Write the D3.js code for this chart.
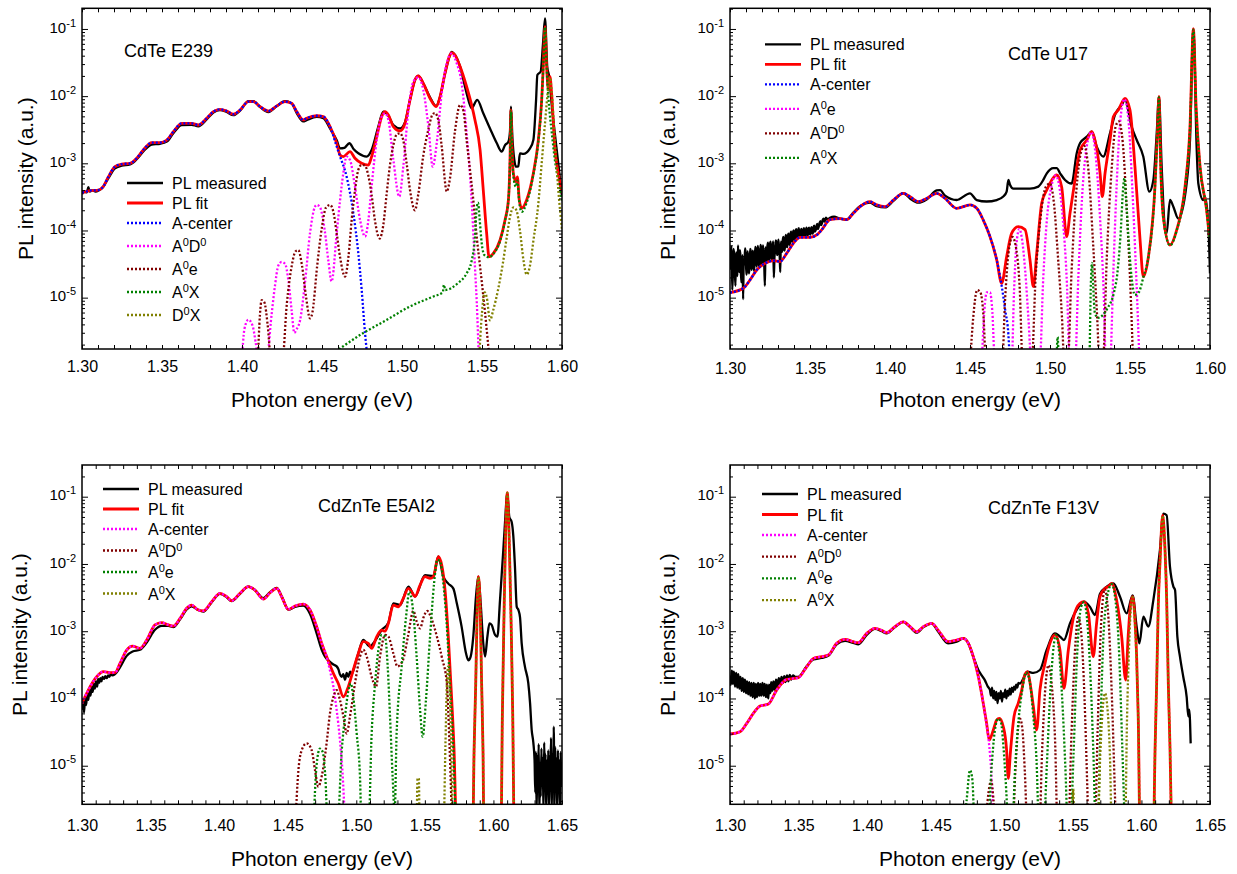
<!DOCTYPE html>
<html>
<head>
<meta charset="utf-8">
<script src="https://cdn.jsdelivr.net/npm/d3@7"></script>
<style>
  body { margin: 0; background: #fff; }
  svg { display: block; }
</style>
</head>
<body>
<svg id="chart" width="1237" height="874"></svg>
<script>
// ---------- tick values ----------
const energyTicksCdTe = [1.30, 1.35, 1.40, 1.45, 1.50, 1.55, 1.60];
const energyTicksCZT = [1.30, 1.35, 1.40, 1.45, 1.50, 1.55, 1.60, 1.65];
const intensityTicks = [1e-1, 1e-2, 1e-3, 1e-4, 1e-5];
const intensityTickExponents = ["-1", "-2", "-3", "-4", "-5"];

// ---------- CdTe E239: [photon energy (eV), PL intensity (a.u.)] ----------
const p1Measured = [[1.3000,3.5e-4],[1.3015,3.75e-4],[1.3030,3.7e-4],[1.3040,4.4e-4],[1.3048,3.8e-4],[1.3065,3.95e-4],[1.3085,3.8e-4],[1.3102,3.9e-4],[1.3130,4.4e-4],[1.3165,6.0e-4],[1.3206,8.4e-4],[1.3248,9.2e-4],[1.3300,9.6e-4],[1.3342,1.15e-3],[1.3383,1.5e-3],[1.3435,1.9e-3],[1.3488,1.95e-3],[1.3530,2.1e-3],[1.3571,2.8e-3],[1.3623,3.7e-3],[1.3685,3.75e-3],[1.3727,3.55e-3],[1.3779,4.5e-3],[1.3821,5.7e-3],[1.3862,6.2e-3],[1.3904,5.8e-3],[1.3946,5.2e-3],[1.3988,6.1e-3],[1.4040,8.4e-3],[1.4071,8.4e-3],[1.4113,6.9e-3],[1.4165,5.8e-3],[1.4217,7.1e-3],[1.4269,8.4e-3],[1.4310,7.8e-3],[1.4342,5.6e-3],[1.4383,4.2e-3],[1.4404,4.4e-3],[1.4467,4.9e-3],[1.4508,4.7e-3],[1.4550,3.3e-3],[1.4592,2.2e-3],[1.4613,1.67e-3],[1.4640,1.7e-3],[1.4671,1.99e-3],[1.4700,1.6e-3],[1.4727,1.41e-3],[1.4779,1.26e-3],[1.4810,1.58e-3],[1.4852,3.52e-3],[1.4883,5.88e-3],[1.4915,5.1e-3],[1.4946,3.7e-3],[1.4988,3.3e-3],[1.5019,4.1e-3],[1.5050,8.8e-3],[1.5081,1.74e-2],[1.5102,2.0e-2],[1.5133,1.55e-2],[1.5175,9.6e-3],[1.5213,7.1e-3],[1.5238,9.8e-3],[1.5269,2.19e-2],[1.5300,4.1e-2],[1.5310,4.55e-2],[1.5331,4.1e-2],[1.5363,2.75e-2],[1.5404,1.1e-2],[1.5435,6.6e-3],[1.5470,8.8e-3],[1.5508,5.55e-3],[1.5550,3.3e-3],[1.5592,2.0e-3],[1.5623,1.49e-3],[1.5644,1.87e-3],[1.5665,2.1e-3],[1.5675,3.0e-3],[1.5681,7.0e-3],[1.5690,2.4e-3],[1.5702,1.12e-3],[1.5712,8.9e-4],[1.5727,9.0e-4],[1.5737,1.41e-3],[1.5758,1.38e-3],[1.5800,1.67e-3],[1.5821,2.22e-3],[1.5838,8.8e-3],[1.5846,2.07e-2],[1.5867,2.32e-2],[1.5880,5.5e-2],[1.5894,0.144],[1.5908,2.7e-2],[1.5920,1.95e-2],[1.5935,7.8e-3],[1.5967,1.58e-3],[1.6000,3.2e-4]];
const p1Fit = [[1.3000,3.66e-4],[1.3050,3.92e-4],[1.3102,4.0e-4],[1.3133,4.5e-4],[1.3165,6.3e-4],[1.3206,8.9e-4],[1.3248,9.7e-4],[1.3300,1.0e-3],[1.3342,1.19e-3],[1.3383,1.58e-3],[1.3435,2.03e-3],[1.3488,2.03e-3],[1.3530,2.22e-3],[1.3571,2.96e-3],[1.3623,3.94e-3],[1.3685,3.94e-3],[1.3727,3.72e-3],[1.3779,4.68e-3],[1.3821,5.88e-3],[1.3862,6.37e-3],[1.3904,6.01e-3],[1.3946,5.37e-3],[1.3988,6.22e-3],[1.4040,8.28e-3],[1.4071,8.28e-3],[1.4113,6.98e-3],[1.4165,6.0e-3],[1.4217,7.14e-3],[1.4269,8.28e-3],[1.4310,7.82e-3],[1.4342,5.88e-3],[1.4383,4.42e-3],[1.4404,4.68e-3],[1.4467,5.1e-3],[1.4508,4.95e-3],[1.4550,3.52e-3],[1.4592,1.99e-3],[1.4613,1.33e-3],[1.4633,1.26e-3],[1.4675,1.49e-3],[1.4706,1.19e-3],[1.4748,1.0e-3],[1.4790,9.4e-4],[1.4810,1.26e-3],[1.4842,2.49e-3],[1.4873,4.95e-3],[1.4894,5.88e-3],[1.4915,5.25e-3],[1.4946,3.52e-3],[1.4988,3.03e-3],[1.5019,3.94e-3],[1.5050,8.77e-3],[1.5081,1.74e-2],[1.5102,2.0e-2],[1.5133,1.55e-2],[1.5175,9.29e-3],[1.5213,6.98e-3],[1.5238,9.84e-3],[1.5269,2.19e-2],[1.5300,4.1e-2],[1.5310,4.45e-2],[1.5331,4.1e-2],[1.5363,2.75e-2],[1.5404,1.38e-2],[1.5435,7.4e-3],[1.5456,4.42e-3],[1.5488,1.58e-3],[1.5508,4.0e-4],[1.5529,9.1e-5],[1.5544,4.07e-5],[1.5571,4.57e-5],[1.5613,7.22e-5],[1.5644,1.43e-4],[1.5665,2.84e-4],[1.5675,1.12e-3],[1.5681,6.22e-3],[1.5688,1.58e-3],[1.5696,7.1e-4],[1.5712,5.33e-4],[1.5721,6.3e-4],[1.5733,2.84e-4],[1.5748,2.14e-4],[1.5779,2.84e-4],[1.5821,7.1e-4],[1.5852,2.22e-3],[1.5873,8.77e-3],[1.5883,2.75e-2],[1.5894,0.108],[1.5904,2.75e-2],[1.5915,1.24e-2],[1.5925,1.95e-2],[1.5935,1.1e-2],[1.5956,1.58e-3],[1.5977,7.1e-4],[1.6000,3.57e-4]];
const p1ACenter = [[1.3000,3.66e-4],[1.3050,3.92e-4],[1.3102,4.0e-4],[1.3133,4.5e-4],[1.3165,6.3e-4],[1.3206,8.9e-4],[1.3248,9.7e-4],[1.3300,1.0e-3],[1.3342,1.19e-3],[1.3383,1.58e-3],[1.3435,2.03e-3],[1.3488,2.03e-3],[1.3530,2.22e-3],[1.3571,2.96e-3],[1.3623,3.94e-3],[1.3685,3.94e-3],[1.3727,3.72e-3],[1.3779,4.68e-3],[1.3821,5.88e-3],[1.3862,6.37e-3],[1.3904,6.01e-3],[1.3946,5.37e-3],[1.3988,6.22e-3],[1.4040,8.28e-3],[1.4071,8.28e-3],[1.4113,6.98e-3],[1.4165,6.0e-3],[1.4217,7.14e-3],[1.4269,8.28e-3],[1.4310,7.82e-3],[1.4342,5.88e-3],[1.4383,4.42e-3],[1.4404,4.68e-3],[1.4467,5.1e-3],[1.4508,4.95e-3],[1.4550,3.52e-3],[1.4592,1.77e-3],[1.4613,1.26e-3],[1.4654,6.3e-4],[1.4696,1.8e-4],[1.4727,4.57e-5],[1.4748,1.3e-5],[1.4769,2.94e-6],[1.4790,1.0e-6]];
const p1A0D0 = [[1.3998,1.0e-6],[1.4015,3.4e-6],[1.4040,4.7e-6],[1.4065,3.9e-6],[1.4085,2.2e-6],[1.4105,1.0e-6],[1.4150,1.0e-6],[1.4185,5.6e-6],[1.4206,1.5e-5],[1.4227,3.0e-5],[1.4248,3.4e-5],[1.4269,3.2e-5],[1.4290,1.8e-5],[1.4310,6.5e-6],[1.4327,3.0e-6],[1.4342,3.4e-6],[1.4363,4.6e-6],[1.4394,1.7e-5],[1.4425,9.1e-5],[1.4456,2.26e-4],[1.4467,2.4e-4],[1.4488,2.2e-4],[1.4517,1.0e-4],[1.4540,3.5e-5],[1.4560,1.74e-5],[1.4592,9.1e-5],[1.4613,2.84e-4],[1.4633,7.1e-4],[1.4654,1.26e-3],[1.4675,1.12e-3],[1.4706,4.5e-4],[1.4738,1.43e-4],[1.4769,8.1e-5],[1.4790,1.43e-4],[1.4810,4.5e-4],[1.4842,2.22e-3],[1.4873,4.95e-3],[1.4894,5.55e-3],[1.4915,4.42e-3],[1.4946,1.12e-3],[1.4983,3.19e-4],[1.5008,8.9e-4],[1.5040,6.22e-3],[1.5071,1.64e-2],[1.5102,1.9e-2],[1.5133,1.24e-2],[1.5165,3.52e-3],[1.5192,8.9e-4],[1.5217,1.99e-3],[1.5248,1.1e-2],[1.5279,3.08e-2],[1.5310,4.3e-2],[1.5342,3.08e-2],[1.5373,1.55e-2],[1.5404,2.8e-3],[1.5435,2.84e-4],[1.5456,2.9e-5],[1.5471,5.2e-6],[1.5481,1.0e-6]];
const p1A0e = [[1.4098,1.0e-6],[1.4112,5.5e-6],[1.4123,9.2e-6],[1.4140,8.5e-6],[1.4160,4.0e-6],[1.4185,1.0e-6],[1.4250,1.0e-6],[1.4280,8.0e-6],[1.4310,2.9e-5],[1.4335,4.9e-5],[1.4352,5.1e-5],[1.4375,3.0e-5],[1.4400,1.04e-5],[1.4425,4.9e-6],[1.4440,6.0e-6],[1.4470,3.0e-5],[1.4500,1.14e-4],[1.4525,2.2e-4],[1.4550,2.4e-4],[1.4571,1.9e-4],[1.4592,9.0e-5],[1.4613,4.0e-5],[1.4644,2.06e-5],[1.4665,4.0e-5],[1.4685,1.4e-4],[1.4706,3.9e-4],[1.4727,8.0e-4],[1.4748,9.5e-4],[1.4769,9.2e-4],[1.4790,6.5e-4],[1.4810,3.4e-4],[1.4831,1.4e-4],[1.4860,7.6e-5],[1.4883,1.2e-4],[1.4904,3.5e-4],[1.4925,9.5e-4],[1.4946,1.87e-3],[1.4967,2.7e-3],[1.4988,2.8e-3],[1.5008,2.2e-3],[1.5029,1.0e-3],[1.5050,4.0e-4],[1.5081,2.0e-4],[1.5102,3.5e-4],[1.5133,1.3e-3],[1.5165,3.2e-3],[1.5190,5.3e-3],[1.5206,5.6e-3],[1.5227,4.4e-3],[1.5248,1.8e-3],[1.5280,3.8e-4],[1.5300,6.0e-4],[1.5331,3.0e-3],[1.5363,7.4e-3],[1.5384,6.0e-3],[1.5404,2.2e-3],[1.5425,8.0e-4],[1.5446,2.8e-4],[1.5467,8.0e-5],[1.5488,2.9e-5],[1.5519,6.0e-6],[1.5550,1.0e-6]];
const p1A0X = [[1.4605,1.7e-6],[1.4750,2.9e-6],[1.4900,4.6e-6],[1.5050,7.4e-6],[1.5200,1.05e-5],[1.5255,1.2e-5],[1.5262,1.55e-5],[1.5270,1.3e-5],[1.5350,1.65e-5],[1.5404,2.3e-5],[1.5435,3.5e-5],[1.5456,8.0e-5],[1.5467,2.2e-4],[1.5475,2.6e-4],[1.5485,1.5e-4],[1.5498,6.5e-5],[1.5515,4.3e-5],[1.5544,4.0e-5],[1.5571,4.5e-5],[1.5613,7.0e-5],[1.5644,1.4e-4],[1.5665,2.8e-4],[1.5675,1.1e-3],[1.5681,6.1e-3],[1.5688,1.5e-3],[1.5696,6.5e-4],[1.5712,4.5e-4],[1.5721,5.5e-4],[1.5733,2.6e-4],[1.5748,1.9e-4],[1.5779,2.6e-4],[1.5821,6.8e-4],[1.5852,2.1e-3],[1.5873,8.6e-3],[1.5883,2.7e-2],[1.5894,0.106],[1.5904,2.7e-2],[1.5915,9.5e-3],[1.5925,5.0e-3],[1.5935,3.0e-3],[1.5956,1.1e-3],[1.5977,5.5e-4],[1.6000,2.8e-4]];
const p1D0X = [[1.5480,1.0e-6],[1.5500,6.0e-6],[1.5517,1.2e-5],[1.5530,1.0e-5],[1.5550,4.6e-6],[1.5570,6.5e-6],[1.5600,1.3e-5],[1.5630,3.2e-5],[1.5655,8.0e-5],[1.5675,1.6e-4],[1.5696,2.2e-4],[1.5715,2.0e-4],[1.5737,1.0e-4],[1.5760,3.5e-5],[1.5779,2.2e-5],[1.5800,3.0e-5],[1.5821,7.0e-5],[1.5852,2.5e-4],[1.5873,1.0e-3],[1.5894,4.0e-3],[1.5915,1.4e-2],[1.5925,1.9e-2],[1.5935,1.2e-2],[1.5956,2.0e-3],[1.5977,4.0e-4],[1.6000,1.0e-4]];

// ---------- CdTe U17 ----------
const p2Measured = [[1.3000,2.6e-5],[1.3005,4.9e-5],[1.3010,5.8e-5],[1.3014,1.3e-5],[1.3018,2.2e-5],[1.3022,5.3e-5],[1.3026,4.4e-5],[1.3030,2.7e-5],[1.3034,1.5e-5],[1.3038,4.7e-5],[1.3042,3.6e-5],[1.3046,2.1e-5],[1.3050,6.0e-5],[1.3054,3.2e-5],[1.3058,2.4e-5],[1.3062,5.1e-5],[1.3066,3.9e-5],[1.3070,1.7e-5],[1.3074,2.0e-5],[1.3078,4.3e-5],[1.3082,9.5e-6],[1.3086,3.7e-5],[1.3090,3.1e-5],[1.3094,5.4e-5],[1.3098,4.6e-5],[1.3102,2.2e-5],[1.3106,2.5e-5],[1.3110,4.9e-5],[1.3114,3.8e-5],[1.3118,2.3e-5],[1.3122,2.8e-5],[1.3126,5.3e-5],[1.3130,4.9e-5],[1.3134,2.6e-5],[1.3138,3.0e-5],[1.3142,5.0e-5],[1.3146,4.1e-5],[1.3150,2.5e-5],[1.3154,3.3e-5],[1.3158,5.7e-5],[1.3162,5.2e-5],[1.3166,2.9e-5],[1.3170,3.5e-5],[1.3174,5.9e-5],[1.3178,4.5e-5],[1.3182,2.8e-5],[1.3186,3.2e-5],[1.3190,6.1e-5],[1.3194,5.6e-5],[1.3198,3.0e-5],[1.3202,3.6e-5],[1.3206,6.0e-5],[1.3210,4.8e-5],[1.3214,3.1e-5],[1.3218,1.5e-5],[1.3222,5.6e-5],[1.3226,4.4e-5],[1.3230,3.3e-5],[1.3234,5.9e-5],[1.3238,6.6e-5],[1.3242,3.9e-5],[1.3246,3.5e-5],[1.3250,6.2e-5],[1.3254,6.8e-5],[1.3258,4.2e-5],[1.3262,3.7e-5],[1.3266,5.4e-5],[1.3270,6.9e-5],[1.3274,2.0e-5],[1.3278,4.0e-5],[1.3282,5.0e-5],[1.3286,7.1e-5],[1.3290,6.6e-5],[1.3294,4.3e-5],[1.3298,4.6e-5],[1.3302,7.3e-5],[1.3306,5.8e-5],[1.3310,4.5e-5],[1.3314,2.4e-5],[1.3318,6.8e-5],[1.3322,5.5e-5],[1.3326,4.8e-5],[1.3330,7.2e-5],[1.3334,8.0e-5],[1.3338,5.2e-5],[1.3342,5.0e-5],[1.3346,7.6e-5],[1.3350,8.6e-5],[1.3354,5.9e-5],[1.3358,5.6e-5],[1.3362,8.3e-5],[1.3366,9.0e-5],[1.3370,6.4e-5],[1.3374,6.1e-5],[1.3378,8.8e-5],[1.3382,9.6e-5],[1.3386,7.0e-5],[1.3390,6.8e-5],[1.3394,9.4e-5],[1.3398,1.0e-4],[1.3402,7.5e-5],[1.3406,7.2e-5],[1.3410,9.8e-5],[1.3414,1.05e-4],[1.3418,8.0e-5],[1.3422,7.6e-5],[1.3426,1.0e-4],[1.3430,1.08e-4],[1.3434,8.2e-5],[1.3438,7.9e-5],[1.3442,9.6e-5],[1.3446,1.06e-4],[1.3450,8.4e-5],[1.3454,8.0e-5],[1.3458,1.0e-4],[1.3462,1.08e-4],[1.3466,8.6e-5],[1.3470,8.2e-5],[1.3474,9.9e-5],[1.3478,1.1e-4],[1.3482,8.8e-5],[1.3486,8.4e-5],[1.3490,1.04e-4],[1.3494,1.1e-4],[1.3498,9.0e-5],[1.3502,8.7e-5],[1.3506,1.06e-4],[1.3510,1.12e-4],[1.3514,9.2e-5],[1.3518,9.0e-5],[1.3522,1.1e-4],[1.3526,1.18e-4],[1.3530,9.6e-5],[1.3535,1.0e-4],[1.3540,1.15e-4],[1.3545,1.25e-4],[1.3550,1.05e-4],[1.3555,1.15e-4],[1.3560,1.3e-4],[1.3565,1.38e-4],[1.3570,1.2e-4],[1.3575,1.3e-4],[1.3580,1.45e-4],[1.3585,1.5e-4],[1.3590,1.35e-4],[1.3595,1.42e-4],[1.3600,1.55e-4],[1.3610,1.45e-4],[1.3625,1.55e-4],[1.3650,1.6e-4],[1.3688,1.5e-4],[1.3729,1.45e-4],[1.3771,1.85e-4],[1.3813,2.3e-4],[1.3875,2.6e-4],[1.3917,2.3e-4],[1.3969,2.2e-4],[1.4021,2.75e-4],[1.4083,3.6e-4],[1.4125,3.0e-4],[1.4177,2.6e-4],[1.4229,2.9e-4],[1.4292,3.95e-4],[1.4313,4.0e-4],[1.4344,3.3e-4],[1.4417,2.84e-4],[1.4500,3.57e-4],[1.4542,2.84e-4],[1.4604,2.7e-4],[1.4667,2.84e-4],[1.4708,3.2e-4],[1.4729,3.8e-4],[1.4740,5.65e-4],[1.4750,4.8e-4],[1.4771,4.2e-4],[1.4813,4.2e-4],[1.4875,4.2e-4],[1.4927,4.5e-4],[1.4958,5.65e-4],[1.4980,7.1e-4],[1.5021,8.5e-4],[1.5042,8.5e-4],[1.5063,7.1e-4],[1.5094,5.65e-4],[1.5135,5.0e-4],[1.5167,1.41e-3],[1.5188,2.0e-3],[1.5230,2.49e-3],[1.5261,2.96e-3],[1.5292,1.77e-3],[1.5333,1.26e-3],[1.5375,2.8e-3],[1.5406,5.25e-3],[1.5448,7.4e-3],[1.5469,8.77e-3],[1.5510,3.52e-3],[1.5542,2.22e-3],[1.5583,1.26e-3],[1.5621,3.79e-4],[1.5646,5.65e-4],[1.5667,2.8e-3],[1.5681,9.8e-3],[1.5698,8.9e-4],[1.5719,1.03e-4],[1.5729,9.1e-5],[1.5750,2.84e-4],[1.5771,2.26e-4],[1.5802,1.5e-4],[1.5854,5.0e-4],[1.5875,2.22e-3],[1.5896,0.1],[1.5917,1.58e-3],[1.5927,5.0e-4],[1.5958,2.84e-4],[1.5969,3.19e-4],[1.5990,1.15e-4],[1.6000,2.3e-5]];
const p2Fit = [[1.3000,1.19e-5],[1.3083,1.38e-5],[1.3125,1.83e-5],[1.3167,2.58e-5],[1.3219,3.24e-5],[1.3271,3.56e-5],[1.3313,3.45e-5],[1.3354,4.57e-5],[1.3396,6.44e-5],[1.3438,7.9e-5],[1.3500,7.9e-5],[1.3542,8.57e-5],[1.3573,1.02e-4],[1.3625,1.45e-4],[1.3688,1.5e-4],[1.3729,1.45e-4],[1.3771,1.8e-4],[1.3813,2.26e-4],[1.3875,2.69e-4],[1.3917,2.4e-4],[1.3969,2.26e-4],[1.4021,2.84e-4],[1.4083,3.57e-4],[1.4125,3.19e-4],[1.4177,2.69e-4],[1.4229,3.0e-4],[1.4292,3.57e-4],[1.4344,3.0e-4],[1.4417,2.14e-4],[1.4500,2.4e-4],[1.4542,2.14e-4],[1.4583,1.43e-4],[1.4625,8.1e-5],[1.4667,3.64e-5],[1.4698,1.63e-5],[1.4729,4.07e-5],[1.4760,9.08e-5],[1.4802,1.14e-4],[1.4844,1.03e-4],[1.4875,3.64e-5],[1.4896,1.46e-5],[1.4917,4.57e-5],[1.4948,2.54e-4],[1.4980,4.0e-4],[1.5011,5.65e-4],[1.5042,6.7e-4],[1.5073,4.42e-4],[1.5104,8.1e-5],[1.5125,1.8e-4],[1.5156,5.65e-4],[1.5188,1.58e-3],[1.5230,2.22e-3],[1.5261,2.96e-3],[1.5281,2.22e-3],[1.5313,7.1e-4],[1.5327,3.19e-4],[1.5344,7.1e-4],[1.5375,2.22e-3],[1.5396,4.95e-3],[1.5427,6.2e-3],[1.5469,9.29e-3],[1.5500,6.2e-3],[1.5531,8.9e-4],[1.5563,7.2e-5],[1.5583,2.06e-5],[1.5615,4.07e-5],[1.5656,4.5e-4],[1.5671,2.8e-3],[1.5681,9.8e-3],[1.5692,8.9e-4],[1.5708,1.6e-4],[1.5750,6.08e-5],[1.5792,1.02e-4],[1.5844,4.5e-4],[1.5875,3.52e-3],[1.5896,0.1],[1.5913,6.98e-3],[1.5938,8.9e-4],[1.5979,2.0e-4],[1.5996,8.1e-5]];
const p2ACenter = [[1.3000,1.19e-5],[1.3083,1.38e-5],[1.3125,1.83e-5],[1.3167,2.58e-5],[1.3219,3.24e-5],[1.3271,3.56e-5],[1.3313,3.45e-5],[1.3354,4.57e-5],[1.3396,6.44e-5],[1.3438,7.9e-5],[1.3500,7.9e-5],[1.3542,8.57e-5],[1.3573,1.02e-4],[1.3625,1.45e-4],[1.3688,1.5e-4],[1.3729,1.45e-4],[1.3771,1.8e-4],[1.3813,2.26e-4],[1.3875,2.69e-4],[1.3917,2.4e-4],[1.3969,2.26e-4],[1.4021,2.84e-4],[1.4083,3.57e-4],[1.4125,3.19e-4],[1.4177,2.69e-4],[1.4229,3.0e-4],[1.4292,3.57e-4],[1.4344,3.0e-4],[1.4417,2.14e-4],[1.4500,2.4e-4],[1.4542,2.14e-4],[1.4583,1.43e-4],[1.4625,8.1e-5],[1.4667,3.64e-5],[1.4698,1.5e-5],[1.4720,6.5e-6],[1.4740,2.8e-6],[1.4750,1.0e-6]];
const p2A0e = [[1.4573,1.0e-6],[1.4590,6.5e-6],[1.4605,1.2e-5],[1.4625,1.2e-5],[1.4640,6.0e-6],[1.4656,1.0e-6],[1.4760,1.0e-6],[1.4775,1.2e-5],[1.4790,6.1e-5],[1.4808,1.05e-4],[1.4823,8.0e-5],[1.4845,2.5e-5],[1.4865,5.0e-6],[1.4885,1.0e-6],[1.4935,1.0e-6],[1.4958,2.0e-5],[1.4980,1.4e-4],[1.5011,4.8e-4],[1.5035,6.6e-4],[1.5055,5.0e-4],[1.5080,1.5e-4],[1.5104,2.0e-5],[1.5125,1.0e-6],[1.5156,1.0e-6],[1.5177,2.0e-5],[1.5200,3.0e-4],[1.5230,1.8e-3],[1.5258,2.9e-3],[1.5283,1.5e-3],[1.5313,1.5e-4],[1.5335,1.3e-5],[1.5350,1.0e-6],[1.5375,1.0e-6],[1.5396,2.5e-5],[1.5417,5.0e-4],[1.5440,4.5e-3],[1.5465,9.0e-3],[1.5490,4.5e-3],[1.5515,4.0e-4],[1.5540,1.8e-5],[1.5560,1.0e-6]];
const p2A0D0 = [[1.4500,1.0e-6],[1.4520,5.0e-6],[1.4545,1.3e-5],[1.4565,1.2e-5],[1.4585,5.0e-6],[1.4600,1.0e-6],[1.4700,1.0e-6],[1.4720,1.0e-5],[1.4740,4.5e-5],[1.4765,8.0e-5],[1.4785,6.0e-5],[1.4810,1.5e-5],[1.4830,1.0e-6],[1.4885,1.0e-6],[1.4910,2.0e-5],[1.4940,1.5e-4],[1.4975,4.5e-4],[1.5000,5.0e-4],[1.5025,2.5e-4],[1.5050,4.0e-5],[1.5075,5.0e-6],[1.5090,1.0e-6],[1.5110,1.0e-6],[1.5135,2.5e-5],[1.5165,4.0e-4],[1.5195,1.5e-3],[1.5215,1.8e-3],[1.5240,8.0e-4],[1.5270,6.0e-5],[1.5295,5.0e-6],[1.5310,1.0e-6],[1.5330,1.0e-6],[1.5355,4.0e-5],[1.5385,8.0e-4],[1.5410,3.5e-3],[1.5430,4.2e-3],[1.5455,2.0e-3],[1.5480,2.0e-4],[1.5505,1.0e-5],[1.5520,1.0e-6]];
const p2A0X = [[1.5040,1.0e-6],[1.5048,2.6e-6],[1.5056,1.0e-6],[1.5245,1.0e-6],[1.5255,1.5e-5],[1.5262,3.3e-5],[1.5270,1.5e-5],[1.5280,6.0e-6],[1.5300,5.0e-6],[1.5330,5.5e-6],[1.5360,7.0e-6],[1.5400,1.2e-5],[1.5420,2.2e-5],[1.5440,8.0e-5],[1.5458,4.5e-4],[1.5465,6.0e-4],[1.5475,3.0e-4],[1.5490,8.0e-5],[1.5510,2.0e-5],[1.5530,1.1e-5],[1.5555,1.2e-5],[1.5583,2.0e-5],[1.5615,4.0e-5],[1.5656,4.4e-4],[1.5671,2.7e-3],[1.5681,9.6e-3],[1.5692,8.8e-4],[1.5708,1.6e-4],[1.5750,6.0e-5],[1.5792,1.0e-4],[1.5844,4.4e-4],[1.5875,3.4e-3],[1.5896,0.098],[1.5913,6.8e-3],[1.5938,8.8e-4],[1.5979,2.0e-4],[1.5996,8.0e-5]];

// ---------- CdZnTe E5AI2 ----------
const p3Measured = [[1.3000,7.0e-5],[1.3008,9.5e-5],[1.3015,6.2e-5],[1.3022,1.0e-4],[1.3030,8.0e-5],[1.3038,1.15e-4],[1.3046,9.5e-5],[1.3054,1.35e-4],[1.3062,1.1e-4],[1.3070,1.5e-4],[1.3078,1.25e-4],[1.3086,1.65e-4],[1.3094,1.4e-4],[1.3102,1.8e-4],[1.3110,1.5e-4],[1.3118,1.95e-4],[1.3126,1.7e-4],[1.3134,2.0e-4],[1.3142,1.8e-4],[1.3150,2.1e-4],[1.3160,1.95e-4],[1.3170,2.15e-4],[1.3180,2.0e-4],[1.3190,2.2e-4],[1.3200,2.1e-4],[1.3210,2.3e-4],[1.3220,2.2e-4],[1.3241,2.3e-4],[1.3277,2.9e-4],[1.3326,4.3e-4],[1.3369,5.0e-4],[1.3423,5.3e-4],[1.3472,6.8e-4],[1.3532,1.05e-3],[1.3581,1.2e-3],[1.3630,1.2e-3],[1.3666,1.15e-3],[1.3715,1.5e-3],[1.3763,2.1e-3],[1.3800,2.35e-3],[1.3841,2.1e-3],[1.3885,1.95e-3],[1.3946,2.7e-3],[1.4006,3.6e-3],[1.4055,3.2e-3],[1.4091,2.8e-3],[1.4152,3.6e-3],[1.4213,4.6e-3],[1.4261,4.1e-3],[1.4322,3.1e-3],[1.4371,3.8e-3],[1.4420,4.4e-3],[1.4456,3.3e-3],[1.4505,2.1e-3],[1.4553,2.3e-3],[1.4614,2.4e-3],[1.4663,1.8e-3],[1.4711,9.3e-4],[1.4748,5.3e-4],[1.4772,4.18e-4],[1.4808,3.5e-4],[1.4833,3.2e-4],[1.4857,3.0e-4],[1.4870,2.7e-4],[1.4880,2.3e-4],[1.4893,2.1e-4],[1.4905,2.3e-4],[1.4918,1.9e-4],[1.4930,2.4e-4],[1.4942,2.1e-4],[1.4955,2.5e-4],[1.4966,2.3e-4],[1.4978,2.6e-4],[1.5015,4.7e-4],[1.5051,7.4e-4],[1.5100,5.9e-4],[1.5124,6.6e-4],[1.5185,1.04e-3],[1.5234,1.34e-3],[1.5270,2.6e-3],[1.5319,2.45e-3],[1.5380,4.6e-3],[1.5428,3.3e-3],[1.5501,6.8e-3],[1.5562,6.6e-3],[1.5598,1.3e-2],[1.5635,6.5e-3],[1.5671,5.1e-3],[1.5708,4.3e-3],[1.5733,2.6e-3],[1.5768,1.17e-3],[1.5800,4.7e-4],[1.5817,3.7e-4],[1.5834,4.2e-4],[1.5853,8.3e-4],[1.5873,3.3e-3],[1.5890,6.5e-3],[1.5907,2.6e-3],[1.5926,6.6e-4],[1.5939,4.2e-4],[1.5956,8.3e-4],[1.5971,1.31e-3],[1.5987,1.24e-3],[1.6012,8.8e-4],[1.6029,8.3e-4],[1.6048,2.9e-3],[1.6072,1.6e-2],[1.6084,4.0e-2],[1.6101,0.11],[1.6116,5.0e-2],[1.6133,4.2e-2],[1.6145,2.6e-2],[1.6157,9.1e-3],[1.6170,2.3e-3],[1.6182,2.07e-3],[1.6194,1.6e-3],[1.6206,6.6e-4],[1.6230,2.95e-4],[1.6254,1.7e-4],[1.6267,8.6e-5],[1.6279,3.4e-5],[1.6291,2.2e-5],[1.6300,1.2e-5],[1.6305,4.0e-6],[1.6310,1.6e-5],[1.6315,2.0e-6],[1.6320,1.4e-5],[1.6325,6.0e-6],[1.6330,2.1e-5],[1.6335,2.0e-6],[1.6340,1.1e-5],[1.6345,3.5e-6],[1.6350,1.8e-5],[1.6355,5.0e-6],[1.6360,1.3e-5],[1.6365,2.0e-6],[1.6370,2.2e-5],[1.6375,7.0e-6],[1.6380,1.5e-5],[1.6385,2.0e-6],[1.6390,1.2e-5],[1.6395,4.5e-6],[1.6400,1.7e-5],[1.6405,2.0e-6],[1.6410,1.4e-5],[1.6415,6.5e-6],[1.6420,2.6e-5],[1.6425,2.0e-6],[1.6430,1.5e-5],[1.6435,5.5e-6],[1.6440,3.8e-5],[1.6445,2.0e-6],[1.6450,1.9e-5],[1.6455,7.0e-6],[1.6460,1.3e-5],[1.6465,2.0e-6],[1.6470,1.7e-5],[1.6475,4.0e-6],[1.6480,1.2e-5],[1.6485,2.0e-6],[1.6490,1.6e-5],[1.6495,5.0e-6],[1.6500,1.1e-5]];
const p3Fit = [[1.3000,8.45e-5],[1.3046,1.33e-4],[1.3107,2.1e-4],[1.3156,2.5e-4],[1.3204,2.42e-4],[1.3241,2.42e-4],[1.3277,3.33e-4],[1.3326,5.25e-4],[1.3369,6.0e-4],[1.3423,5.56e-4],[1.3472,7.4e-4],[1.3532,1.24e-3],[1.3581,1.34e-3],[1.3630,1.24e-3],[1.3666,1.19e-3],[1.3715,1.55e-3],[1.3763,2.19e-3],[1.3800,2.45e-3],[1.3841,2.11e-3],[1.3885,2.0e-3],[1.3946,2.75e-3],[1.4006,3.66e-3],[1.4055,3.26e-3],[1.4091,2.84e-3],[1.4152,3.66e-3],[1.4213,4.59e-3],[1.4261,4.09e-3],[1.4322,3.0e-3],[1.4371,3.73e-3],[1.4420,4.34e-3],[1.4456,3.26e-3],[1.4505,2.11e-3],[1.4553,2.37e-3],[1.4614,2.53e-3],[1.4663,2.07e-3],[1.4711,1.17e-3],[1.4748,6.6e-4],[1.4784,4.18e-4],[1.4833,2.36e-4],[1.4869,1.67e-4],[1.4906,1.06e-4],[1.4942,1.5e-4],[1.4978,2.65e-4],[1.5015,4.68e-4],[1.5051,6.98e-4],[1.5088,6.6e-4],[1.5112,5.56e-4],[1.5149,8.3e-4],[1.5185,1.04e-3],[1.5210,1.0e-3],[1.5234,1.31e-3],[1.5270,2.45e-3],[1.5307,2.31e-3],[1.5343,3.08e-3],[1.5380,4.34e-3],[1.5404,3.86e-3],[1.5428,3.26e-3],[1.5465,4.86e-3],[1.5501,6.46e-3],[1.5538,6.1e-3],[1.5562,6.46e-3],[1.5598,1.28e-2],[1.5623,9.6e-3],[1.5647,4.1e-3],[1.5671,8.3e-4],[1.5696,9.5e-5],[1.5713,1.71e-5],[1.5732,1.0e-6],[1.5849,1.0e-6],[1.5859,1.71e-5],[1.5871,1.67e-4],[1.5883,2.9e-3],[1.5890,6.46e-3],[1.5902,2.9e-3],[1.5914,1.67e-4],[1.5924,1.71e-5],[1.5931,1.0e-6],[1.6055,1.0e-6],[1.6065,5.36e-5],[1.6077,1.64e-3],[1.6089,2.85e-2],[1.6101,0.115],[1.6114,2.85e-2],[1.6128,1.64e-3],[1.6141,5.36e-5],[1.6150,1.0e-6]];
const p3ACenter = [[1.3000,8.45e-5],[1.3046,1.33e-4],[1.3107,2.1e-4],[1.3156,2.5e-4],[1.3204,2.42e-4],[1.3241,2.42e-4],[1.3277,3.33e-4],[1.3326,5.25e-4],[1.3369,6.0e-4],[1.3423,5.56e-4],[1.3472,7.4e-4],[1.3532,1.24e-3],[1.3581,1.34e-3],[1.3630,1.24e-3],[1.3666,1.19e-3],[1.3715,1.55e-3],[1.3763,2.19e-3],[1.3800,2.45e-3],[1.3841,2.11e-3],[1.3885,2.0e-3],[1.3946,2.75e-3],[1.4006,3.66e-3],[1.4055,3.26e-3],[1.4091,2.84e-3],[1.4152,3.66e-3],[1.4213,4.59e-3],[1.4261,4.09e-3],[1.4322,3.0e-3],[1.4371,3.73e-3],[1.4420,4.34e-3],[1.4456,3.26e-3],[1.4505,2.11e-3],[1.4553,2.37e-3],[1.4614,2.53e-3],[1.4663,2.07e-3],[1.4711,1.17e-3],[1.4748,6.6e-4],[1.4784,4.18e-4],[1.4808,2.6e-4],[1.4833,1.5e-4],[1.4857,6.7e-5],[1.4881,2.4e-5],[1.4900,7.7e-6],[1.4915,2.0e-6],[1.4925,1.0e-6]];
const p3A0D0 = [[1.4553,1.0e-6],[1.4578,8.6e-6],[1.4602,1.7e-5],[1.4638,2.15e-5],[1.4675,1.7e-5],[1.4699,8.6e-6],[1.4723,4.9e-6],[1.4748,7.0e-6],[1.4784,2.2e-5],[1.4808,6.0e-5],[1.4833,1.05e-4],[1.4857,1.33e-4],[1.4881,9.5e-5],[1.4906,5.4e-5],[1.4930,3.0e-5],[1.4954,5.4e-5],[1.4991,1.7e-4],[1.5027,4.2e-4],[1.5051,5.3e-4],[1.5076,4.2e-4],[1.5112,2.1e-4],[1.5144,1.5e-4],[1.5173,4.2e-4],[1.5210,8.8e-4],[1.5234,8.3e-4],[1.5270,4.7e-4],[1.5300,3.0e-4],[1.5340,3.7e-4],[1.5375,8.0e-4],[1.5416,2.0e-3],[1.5440,1.4e-3],[1.5465,1.1e-3],[1.5490,1.6e-3],[1.5517,2.0e-3],[1.5550,1.5e-3],[1.5590,8.0e-4],[1.5625,4.0e-4],[1.5660,1.7e-4],[1.5680,2.0e-5],[1.5700,1.0e-6]];
const p3A0e = [[1.4687,1.0e-6],[1.4710,1.0e-5],[1.4735,1.8e-5],[1.4755,1.6e-5],[1.4772,8.0e-6],[1.4796,1.0e-6],[1.4860,1.0e-6],[1.4894,1.7e-5],[1.4918,5.4e-5],[1.4942,1.3e-4],[1.4960,1.67e-4],[1.4978,1.05e-4],[1.5003,3.0e-5],[1.5027,6.9e-6],[1.5040,1.0e-6],[1.5088,1.0e-6],[1.5112,3.0e-5],[1.5137,1.67e-4],[1.5161,5.25e-4],[1.5185,8.8e-4],[1.5210,8.3e-4],[1.5229,3.0e-4],[1.5246,5.4e-5],[1.5265,6.9e-6],[1.5280,2.0e-6],[1.5294,3.0e-5],[1.5331,3.0e-4],[1.5363,1.64e-3],[1.5387,3.86e-3],[1.5411,2.3e-3],[1.5440,4.2e-4],[1.5465,6.8e-5],[1.5484,2.7e-5],[1.5508,9.5e-5],[1.5538,8.3e-4],[1.5567,5.1e-3],[1.5591,1.15e-2],[1.5611,1.1e-2],[1.5635,5.1e-3],[1.5659,1.31e-3],[1.5683,1.67e-4],[1.5708,1.7e-5],[1.5727,1.0e-6]];
const p3A0X = [[1.5440,1.0e-6],[1.5447,6.5e-6],[1.5456,6.5e-6],[1.5463,1.0e-6],[1.5635,1.0e-6],[1.5650,2.0e-5],[1.5660,1.5e-4],[1.5670,3.0e-4],[1.5680,1.5e-4],[1.5692,2.0e-5],[1.5705,1.0e-6],[1.5849,1.0e-6],[1.5859,1.7e-5],[1.5871,1.65e-4],[1.5883,2.9e-3],[1.5890,6.4e-3],[1.5902,2.9e-3],[1.5914,1.65e-4],[1.5924,1.7e-5],[1.5931,1.0e-6],[1.6055,1.0e-6],[1.6065,5.3e-5],[1.6077,1.6e-3],[1.6089,2.8e-2],[1.6101,0.114],[1.6114,2.8e-2],[1.6128,1.6e-3],[1.6141,5.3e-5],[1.6150,1.0e-6]];

// ---------- CdZnTe F13V ----------
const p4Measured = [[1.3000,2.2e-4],[1.3004,1.6e-4],[1.3008,1.75e-4],[1.3012,2.6e-4],[1.3016,2.4e-4],[1.3020,1.65e-4],[1.3024,1.9e-4],[1.3028,2.5e-4],[1.3032,2.1e-4],[1.3036,1.5e-4],[1.3040,1.7e-4],[1.3044,2.4e-4],[1.3048,2.2e-4],[1.3052,1.45e-4],[1.3056,1.6e-4],[1.3060,2.3e-4],[1.3064,1.95e-4],[1.3068,1.4e-4],[1.3072,1.55e-4],[1.3076,2.1e-4],[1.3080,1.85e-4],[1.3084,1.3e-4],[1.3088,1.45e-4],[1.3092,2.0e-4],[1.3096,1.8e-4],[1.3100,1.25e-4],[1.3104,1.4e-4],[1.3108,1.9e-4],[1.3112,1.7e-4],[1.3116,1.2e-4],[1.3120,1.3e-4],[1.3124,1.8e-4],[1.3128,1.6e-4],[1.3132,1.15e-4],[1.3136,1.25e-4],[1.3140,1.75e-4],[1.3144,1.55e-4],[1.3148,1.1e-4],[1.3152,1.15e-4],[1.3156,1.7e-4],[1.3160,1.5e-4],[1.3164,1.05e-4],[1.3168,1.2e-4],[1.3172,1.7e-4],[1.3176,1.55e-4],[1.3180,1.0e-4],[1.3184,1.1e-4],[1.3188,1.65e-4],[1.3192,1.45e-4],[1.3196,1.05e-4],[1.3200,1.2e-4],[1.3204,1.7e-4],[1.3208,1.6e-4],[1.3212,1.1e-4],[1.3216,1.15e-4],[1.3220,1.65e-4],[1.3224,1.5e-4],[1.3228,1.1e-4],[1.3232,1.25e-4],[1.3236,1.7e-4],[1.3240,1.55e-4],[1.3244,1.1e-4],[1.3248,1.2e-4],[1.3252,1.65e-4],[1.3256,1.5e-4],[1.3260,1.1e-4],[1.3264,1.05e-4],[1.3268,1.6e-4],[1.3272,1.4e-4],[1.3276,1.1e-4],[1.3280,1.0e-4],[1.3284,1.6e-4],[1.3288,1.5e-4],[1.3292,1.2e-4],[1.3296,1.3e-4],[1.3300,1.75e-4],[1.3304,1.65e-4],[1.3308,1.3e-4],[1.3312,1.4e-4],[1.3316,1.8e-4],[1.3320,1.7e-4],[1.3325,1.35e-4],[1.3330,1.5e-4],[1.3335,1.9e-4],[1.3340,1.8e-4],[1.3345,1.45e-4],[1.3350,1.6e-4],[1.3355,2.0e-4],[1.3360,1.9e-4],[1.3365,1.6e-4],[1.3370,1.75e-4],[1.3375,2.1e-4],[1.3380,2.0e-4],[1.3385,1.7e-4],[1.3390,1.8e-4],[1.3395,2.15e-4],[1.3400,2.05e-4],[1.3405,1.75e-4],[1.3410,1.9e-4],[1.3415,2.2e-4],[1.3420,2.1e-4],[1.3425,1.8e-4],[1.3430,1.95e-4],[1.3435,2.25e-4],[1.3440,2.15e-4],[1.3445,1.9e-4],[1.3450,2.0e-4],[1.3460,2.2e-4],[1.3475,2.1e-4],[1.3498,2.1e-4],[1.3559,3.0e-4],[1.3608,3.8e-4],[1.3668,4.0e-4],[1.3717,4.3e-4],[1.3778,6.4e-4],[1.3839,7.2e-4],[1.3899,6.7e-4],[1.3936,6.4e-4],[1.3997,8.8e-4],[1.4057,1.08e-3],[1.4106,1.0e-3],[1.4142,9.3e-4],[1.4203,1.15e-3],[1.4264,1.38e-3],[1.4313,1.15e-3],[1.4361,9.5e-4],[1.4410,1.15e-3],[1.4471,1.3e-3],[1.4519,9.8e-4],[1.4590,6.6e-4],[1.4653,7.0e-4],[1.4701,7.8e-4],[1.4738,6.6e-4],[1.4774,4.2e-4],[1.4811,2.65e-4],[1.4835,2.2e-4],[1.4859,1.86e-4],[1.4880,1.5e-4],[1.4895,1.35e-4],[1.4903,1.1e-4],[1.4911,1.45e-4],[1.4919,1.0e-4],[1.4927,1.3e-4],[1.4935,9.5e-5],[1.4943,1.25e-4],[1.4951,8.5e-5],[1.4959,1.2e-4],[1.4967,1.0e-4],[1.4975,1.3e-4],[1.4983,9.0e-5],[1.4991,1.2e-4],[1.4999,1.05e-4],[1.5007,1.35e-4],[1.5015,1.0e-4],[1.5023,1.3e-4],[1.5031,1.1e-4],[1.5039,1.4e-4],[1.5047,1.15e-4],[1.5055,1.45e-4],[1.5063,1.25e-4],[1.5071,1.5e-4],[1.5079,1.35e-4],[1.5087,1.6e-4],[1.5095,1.45e-4],[1.5103,1.7e-4],[1.5114,1.67e-4],[1.5151,2.2e-4],[1.5170,2.5e-4],[1.5212,2.4e-4],[1.5260,2.65e-4],[1.5309,5.25e-4],[1.5370,9.3e-4],[1.5406,8.3e-4],[1.5435,7.4e-4],[1.5479,1.31e-3],[1.5528,2.07e-3],[1.5581,2.75e-3],[1.5625,2.3e-3],[1.5661,1.74e-3],[1.5698,3.6e-3],[1.5747,4.6e-3],[1.5795,5.14e-3],[1.5844,3.26e-3],[1.5892,1.84e-3],[1.5936,3.4e-3],[1.5965,1.17e-3],[1.5985,6.6e-4],[1.6014,1.64e-3],[1.6050,1.17e-3],[1.6087,2.9e-3],[1.6135,1.6e-2],[1.6160,5.6e-2],[1.6184,5.3e-2],[1.6208,9.1e-3],[1.6233,4.6e-3],[1.6245,4.1e-3],[1.6262,8.3e-4],[1.6281,4.2e-4],[1.6305,2.1e-4],[1.6330,1.05e-4],[1.6342,5.4e-5],[1.6349,6.8e-5],[1.6359,2.15e-5]];
const p4Fit = [[1.3000,2.96e-5],[1.3073,3.2e-5],[1.3122,4.26e-5],[1.3170,6.0e-5],[1.3219,7.7e-5],[1.3280,8.26e-5],[1.3340,1.33e-4],[1.3413,1.92e-4],[1.3498,2.04e-4],[1.3559,2.96e-4],[1.3608,3.94e-4],[1.3668,4.18e-4],[1.3717,4.42e-4],[1.3778,6.6e-4],[1.3839,7.57e-4],[1.3899,6.98e-4],[1.3936,6.75e-4],[1.3997,9.3e-4],[1.4057,1.1e-3],[1.4106,1.03e-3],[1.4142,9.5e-4],[1.4203,1.17e-3],[1.4264,1.38e-3],[1.4313,1.17e-3],[1.4361,9.8e-4],[1.4410,1.17e-3],[1.4471,1.31e-3],[1.4519,1.03e-3],[1.4590,7.0e-4],[1.4653,7.4e-4],[1.4701,7.8e-4],[1.4738,6.6e-4],[1.4774,4.18e-4],[1.4811,2.1e-4],[1.4847,8.45e-5],[1.4871,4.3e-5],[1.4890,2.41e-5],[1.4920,3.4e-5],[1.4944,4.77e-5],[1.4964,5.06e-5],[1.4993,3.8e-5],[1.5017,1.7e-5],[1.5029,6.5e-6],[1.5046,1.7e-5],[1.5071,5.4e-5],[1.5102,8.5e-5],[1.5127,1.33e-4],[1.5151,2.3e-4],[1.5170,2.5e-4],[1.5192,1.5e-4],[1.5212,7.6e-5],[1.5236,3.4e-5],[1.5260,1.33e-4],[1.5297,3.33e-4],[1.5333,6.6e-4],[1.5370,8.8e-4],[1.5406,5.25e-4],[1.5435,1.41e-4],[1.5467,5.25e-4],[1.5503,1.55e-3],[1.5552,2.6e-3],[1.5581,2.75e-3],[1.5613,1.85e-3],[1.5649,4.2e-4],[1.5673,1.31e-3],[1.5698,3.26e-3],[1.5734,4.33e-3],[1.5758,4.6e-3],[1.5783,5.14e-3],[1.5819,2.9e-3],[1.5856,8.3e-4],[1.5885,1.88e-4],[1.5904,9.0e-4],[1.5921,2.5e-3],[1.5936,3.26e-3],[1.5953,1.47e-3],[1.5965,4.2e-4],[1.5977,5.0e-5],[1.5990,1.0e-6],[1.6087,1.0e-6],[1.6100,2.0e-5],[1.6111,1.67e-4],[1.6123,2.5e-3],[1.6135,1.02e-2],[1.6155,5.3e-2],[1.6172,1.6e-2],[1.6184,3.0e-3],[1.6196,1.67e-4],[1.6208,2.0e-5],[1.6220,1.0e-6]];
const p4ACenter = [[1.3000,2.96e-5],[1.3073,3.2e-5],[1.3122,4.26e-5],[1.3170,6.0e-5],[1.3219,7.7e-5],[1.3280,8.26e-5],[1.3340,1.33e-4],[1.3413,1.92e-4],[1.3498,2.04e-4],[1.3559,2.96e-4],[1.3608,3.94e-4],[1.3668,4.18e-4],[1.3717,4.42e-4],[1.3778,6.6e-4],[1.3839,7.57e-4],[1.3899,6.98e-4],[1.3936,6.75e-4],[1.3997,9.3e-4],[1.4057,1.1e-3],[1.4106,1.03e-3],[1.4142,9.5e-4],[1.4203,1.17e-3],[1.4264,1.38e-3],[1.4313,1.17e-3],[1.4361,9.8e-4],[1.4410,1.17e-3],[1.4471,1.31e-3],[1.4519,1.03e-3],[1.4590,7.0e-4],[1.4653,7.4e-4],[1.4701,7.8e-4],[1.4738,6.6e-4],[1.4774,4.18e-4],[1.4811,2.1e-4],[1.4847,8.45e-5],[1.4871,4.0e-5],[1.4890,2.0e-5],[1.4905,8.0e-6],[1.4915,3.0e-6],[1.4925,1.0e-6]];
const p4A0D0 = [[1.4860,1.0e-6],[1.4885,4.0e-6],[1.4905,6.0e-6],[1.4922,3.0e-6],[1.4940,1.0e-6],[1.5060,1.0e-6],[1.5080,8.0e-6],[1.5100,3.5e-5],[1.5115,5.0e-5],[1.5132,3.5e-5],[1.5150,8.0e-6],[1.5170,1.0e-6],[1.5255,1.0e-6],[1.5275,1.5e-5],[1.5300,1.5e-4],[1.5322,3.1e-4],[1.5345,1.7e-4],[1.5370,2.5e-5],[1.5390,1.0e-6],[1.5465,1.0e-6],[1.5490,3.0e-5],[1.5515,5.0e-4],[1.5540,1.6e-3],[1.5562,9.0e-4],[1.5585,1.0e-4],[1.5605,5.0e-6],[1.5615,1.0e-6],[1.5660,1.0e-6],[1.5680,3.0e-5],[1.5705,1.2e-3],[1.5734,4.2e-3],[1.5760,1.5e-3],[1.5785,1.0e-4],[1.5805,5.0e-6],[1.5815,1.0e-6]];
const p4A0e = [[1.4700,1.0e-6],[1.4725,3.0e-6],[1.4750,8.6e-6],[1.4768,6.0e-6],[1.4785,1.0e-6],[1.4880,1.0e-6],[1.4905,8.0e-6],[1.4930,3.2e-5],[1.4955,5.0e-5],[1.4975,4.5e-5],[1.4995,1.8e-5],[1.5015,4.0e-6],[1.5030,1.0e-6],[1.5055,1.0e-6],[1.5080,1.0e-5],[1.5105,5.0e-5],[1.5130,1.3e-4],[1.5160,2.45e-4],[1.5185,1.8e-4],[1.5210,6.0e-5],[1.5235,1.2e-5],[1.5255,1.0e-6],[1.5285,1.0e-6],[1.5310,1.0e-5],[1.5335,1.2e-4],[1.5360,6.0e-4],[1.5375,8.8e-4],[1.5395,6.0e-4],[1.5420,1.2e-4],[1.5445,1.0e-5],[1.5465,1.0e-6],[1.5480,1.0e-6],[1.5505,1.5e-5],[1.5530,4.0e-4],[1.5560,2.3e-3],[1.5580,2.7e-3],[1.5600,1.8e-3],[1.5625,3.0e-4],[1.5650,1.5e-5],[1.5668,1.0e-6],[1.5680,1.0e-6],[1.5700,3.0e-5],[1.5725,1.0e-3],[1.5760,4.0e-3],[1.5783,5.0e-3],[1.5805,3.5e-3],[1.5835,6.0e-4],[1.5860,2.0e-5],[1.5880,1.0e-6]];
const p4A0X = [[1.5495,1.0e-6],[1.5503,4.5e-6],[1.5511,1.0e-6],[1.5680,1.0e-6],[1.5700,1.5e-5],[1.5720,8.0e-5],[1.5735,1.2e-4],[1.5750,8.0e-5],[1.5770,1.5e-5],[1.5785,1.0e-6],[1.5880,1.0e-6],[1.5895,5.0e-5],[1.5910,6.0e-4],[1.5925,2.5e-3],[1.5936,3.2e-3],[1.5950,1.6e-3],[1.5965,3.5e-4],[1.5977,5.0e-5],[1.5990,1.0e-6],[1.6087,1.0e-6],[1.6100,2.0e-5],[1.6111,1.7e-4],[1.6123,2.5e-3],[1.6135,1.0e-2],[1.6155,5.2e-2],[1.6172,1.6e-2],[1.6184,3.0e-3],[1.6196,1.7e-4],[1.6208,2.0e-5],[1.6220,1.0e-6]];

// ---------- styles ----------
const FONT = '"Liberation Sans", Arial, Helvetica, sans-serif';
const C = { black: "#000000", red: "#ff0000", blue: "#0000ff", magenta: "#ff00ff",
            maroon: "#800000", green: "#008000", olive: "#808000" };
const measured = (data) => ({ label: "PL measured", data, color: C.black, width: 2.3, dash: null });
const fitted = (data) => ({ label: "PL fit", data, color: C.red, width: 2.8, dash: null });
const dotted = (label, data, color) => ({ label, data, color, width: 2.3, dash: "2,2" });

const panels = [
  { id: "e239", left: 82, right: 562, top: 8.3, bottom: 349,
    xDomain: [1.30, 1.60], yDomain: [1.72e-6, 0.203], xTicks: energyTicksCdTe,
    xTickBaseline: 372, xTitleBaseline: 407, yTitleX: 25,
    title: "CdTe E239", titleX: 124, titleY: 56.5,
    legend: { x: 127, y: 183, step: 20, supExtra: 3 },
    series: [measured(p1Measured), fitted(p1Fit),
             dotted("A-center", p1ACenter, C.blue), dotted("A^0D^0", p1A0D0, C.magenta),
             dotted("A^0e", p1A0e, C.maroon), dotted("A^0X", p1A0X, C.green),
             dotted("D^0X", p1D0X, C.olive)] },
  { id: "u17", left: 730, right: 1210, top: 8.3, bottom: 349,
    xDomain: [1.30, 1.60], yDomain: [1.72e-6, 0.203], xTicks: energyTicksCdTe,
    xTickBaseline: 374, xTitleBaseline: 407, yTitleX: 667,
    title: "CdTe U17", titleX: 1008, titleY: 60,
    legend: { x: 765, y: 44.3, step: 20, supExtra: 4.5 },
    series: [measured(p2Measured), fitted(p2Fit),
             dotted("A-center", p2ACenter, C.blue), dotted("A^0e", p2A0e, C.magenta),
             dotted("A^0D^0", p2A0D0, C.maroon), dotted("A^0X", p2A0X, C.green)] },
  { id: "e5ai2", left: 82, right: 562, top: 465, bottom: 804.3,
    xDomain: [1.30, 1.65], yDomain: [2.67e-6, 0.296], xTicks: energyTicksCZT,
    xTickBaseline: 831.5, xTitleBaseline: 866, yTitleX: 19,
    title: "CdZnTe E5AI2", titleX: 318, titleY: 511.5,
    legend: { x: 103, y: 489, step: 20, supExtra: 1.5 },
    series: [measured(p3Measured), fitted(p3Fit),
             dotted("A-center", p3ACenter, C.magenta), dotted("A^0D^0", p3A0D0, C.maroon),
             dotted("A^0e", p3A0e, C.green), dotted("A^0X", p3A0X, C.olive)] },
  { id: "f13v", left: 730, right: 1210, top: 465, bottom: 804.3,
    xDomain: [1.30, 1.65], yDomain: [2.67e-6, 0.296], xTicks: energyTicksCZT,
    xTickBaseline: 831.5, xTitleBaseline: 866, yTitleX: 667,
    title: "CdZnTe F13V", titleX: 988, titleY: 514,
    legend: { x: 762, y: 494, step: 20.5, supExtra: 1.2 },
    series: [measured(p4Measured), fitted(p4Fit),
             dotted("A-center", p4ACenter, C.magenta), dotted("A^0D^0", p4A0D0, C.maroon),
             dotted("A^0e", p4A0e, C.green), dotted("A^0X", p4A0X, C.olive)] }
];

const svg = d3.select("#chart").attr("font-family", FONT);
const defs = svg.append("defs");

// Writes a label where "^" raises the next character as a superscript.
function writeRich(textSel, label, baseSize, supSize, rise) {
  const parts = label.split(/(\^.)/).filter(s => s.length);
  let raised = false;
  parts.forEach(part => {
    if (part[0] === "^") {
      textSel.append("tspan").attr("font-size", supSize).attr("dy", raised ? 0 : -rise).text(part.slice(1));
      raised = true;
    } else {
      textSel.append("tspan").attr("font-size", baseSize).attr("dy", raised ? rise : 0).text(part);
      raised = false;
    }
  });
}

function stripDomain(sel) {
  sel.select(".domain").remove();
  sel.selectAll(".tick line").attr("stroke", "#000").attr("stroke-width", 1);
}

function drawPanel(p) {
  const x = d3.scaleLinear().domain(p.xDomain).range([p.left, p.right]);
  const y = d3.scaleLog().domain(p.yDomain).range([p.bottom, p.top]);
  const g = svg.append("g").attr("class", "panel-" + p.id);

  defs.append("clipPath").attr("id", "clip-" + p.id)
    .append("rect").attr("x", p.left).attr("y", p.top)
    .attr("width", p.right - p.left).attr("height", p.bottom - p.top);

  // spectra
  const plot = g.append("g").attr("clip-path", `url(#clip-${p.id})`);
  const line = d3.line().x(d => x(d[0])).y(d => y(d[1])).curve(d3.curveMonotoneX);
  p.series.forEach(s => {
    plot.append("path").attr("d", line(s.data)).attr("fill", "none")
      .attr("stroke", s.color).attr("stroke-width", s.width)
      .attr("stroke-dasharray", s.dash).attr("stroke-linejoin", "round");
  });

  // ticks on all four sides, pointing inward
  const minorX = d3.range(Math.round(p.xDomain[0] * 100), Math.round(p.xDomain[1] * 100) + 1).map(v => v / 100);
  const allY = y.ticks();
  const minorY = allY.filter(v => !intensityTicks.some(m => Math.abs(m - v) / m < 1e-6));
  g.append("g").attr("transform", `translate(0,${p.bottom})`)
    .call(d3.axisBottom(x).tickValues(minorX).tickSize(-4).tickFormat("")).call(stripDomain);
  g.append("g").attr("transform", `translate(0,${p.top})`)
    .call(d3.axisTop(x).tickValues(minorX).tickSize(-4).tickFormat("")).call(stripDomain);
  g.append("g").attr("transform", `translate(${p.left},0)`)
    .call(d3.axisLeft(y).tickValues(minorY).tickSize(-3).tickFormat("")).call(stripDomain);
  g.append("g").attr("transform", `translate(${p.right},0)`)
    .call(d3.axisRight(y).tickValues(minorY).tickSize(-3).tickFormat("")).call(stripDomain);
  g.append("g").attr("transform", `translate(${p.left},0)`)
    .call(d3.axisLeft(y).tickValues(intensityTicks).tickSize(-6).tickFormat("")).call(stripDomain);
  g.append("g").attr("transform", `translate(${p.right},0)`)
    .call(d3.axisRight(y).tickValues(intensityTicks).tickSize(-6).tickFormat("")).call(stripDomain);

  // x tick labels
  const xl = g.append("g").attr("transform", `translate(0,${p.bottom})`)
    .call(d3.axisBottom(x).tickValues(p.xTicks).tickSize(0)
      .tickPadding(p.xTickBaseline - p.bottom - 11.4).tickFormat(d3.format(".2f")));
  xl.select(".domain").remove();
  xl.attr("font-family", FONT);
  xl.selectAll("text").attr("font-size", 16).attr("fill", "#000");

  // y tick labels: 10 with a raised exponent
  const yl = g.append("g").attr("transform", `translate(${p.left},0)`)
    .call(d3.axisLeft(y).tickValues(intensityTicks).tickSize(0).tickPadding(6).tickFormat(() => ""));
  yl.select(".domain").remove();
  yl.attr("font-family", FONT);
  yl.selectAll(".tick text").each(function (d) {
    const t = d3.select(this).attr("fill", "#000");
    const k = intensityTicks.indexOf(d);
    t.append("tspan").attr("font-size", 15).text("10");
    t.append("tspan").attr("font-size", 11).attr("dy", "-0.55em").text(intensityTickExponents[k]);
  });

  // frame
  g.append("rect").attr("x", p.left).attr("y", p.top)
    .attr("width", p.right - p.left).attr("height", p.bottom - p.top)
    .attr("fill", "none").attr("stroke", "#000").attr("stroke-width", 1.5);

  // axis titles
  g.append("text").attr("x", (p.left + p.right) / 2).attr("y", p.xTitleBaseline)
    .attr("text-anchor", "middle").attr("font-size", 21).attr("fill", "#000")
    .text("Photon energy (eV)");
  g.append("text")
    .attr("transform", `translate(${p.yTitleX + 7.5},${(p.top + p.bottom) / 2}) rotate(-90)`)
    .attr("text-anchor", "middle").attr("font-size", 21).attr("fill", "#000")
    .text("PL intensity (a.u.)");

  // sample name
  g.append("text").attr("x", p.titleX).attr("y", p.titleY)
    .attr("font-size", 18).attr("fill", "#000").text(p.title);

  // legend
  const L = p.legend;
  let rowY = L.y;
  p.series.forEach((s, i) => {
    if (i > 0) rowY += L.step + (s.label.includes("^") ? L.supExtra : 0);
    g.append("line").attr("x1", L.x).attr("x2", L.x + 36).attr("y1", rowY).attr("y2", rowY)
      .attr("stroke", s.color).attr("stroke-width", s.width).attr("stroke-dasharray", s.dash);
    const t = g.append("text").attr("x", L.x + 45).attr("y", rowY + 6).attr("fill", "#000");
    writeRich(t, s.label, 16, 11, 6);
  });
}

panels.forEach(drawPanel);
</script>
</body>
</html>
